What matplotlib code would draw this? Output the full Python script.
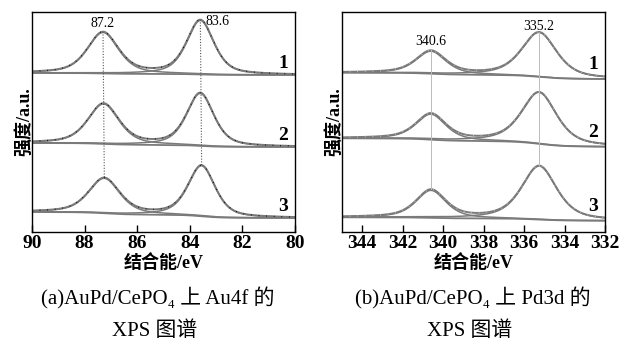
import numpy as np
import matplotlib
matplotlib.use("Agg")
import matplotlib.pyplot as plt

# ---------------- data ----------------
# Au4f panel (a): three spectra (1 top, 2 middle, 3 bottom)
au_labels = ["1", "2", "3"]
au_centers = [[87.30, 83.60], [87.28, 83.60], [87.25, 83.55]]
au_heights = [[41.0, 54.0], [40.0, 52.5], [35.0, 50.5]]
au_fwhm = [1.40, 1.22]
au_base_left = [159.0, 89.0, 20.0]
au_base_right = [157.0, 85.0, 14.0]
au_peak_text = ["87.2", "83.6"]

# Pd3d panel (b)
pd_labels = ["1", "2", "3"]
pd_centers = [[340.6, 335.25], [340.6, 335.25], [340.6, 335.25]]
pd_heights = [[22.5, 44.5], [25.5, 51.5], [27.5, 53.5]]
pd_fwhm = [1.75, 2.05]
pd_base_left = [159.3, 93.7, 14.7]
pd_base_right = [153.0, 85.3, 11.3]
pd_peak_text = ["340.6", "335.2"]

au_xticks = [90, 88, 86, 84, 82, 80]
pd_xticks = [344, 342, 340, 338, 336, 334, 332]

captions_a = ["(a)AuPd/CePO₄ 上 Au4f 的", "XPS 图谱"]
captions_b = ["(b)AuPd/CePO₄ 上 Pd3d 的", "XPS 图谱"]

# ---------------- style ----------------
LINE = "#7a7a7a"
SERIF = ["Liberation Serif", "Noto Sans CJK SC"]
CJK = ["Liberation Serif", "Noto Sans CJK SC"]


def pvoigt(x, c, h, w, eta):
    g = np.exp(-4 * np.log(2) * (x - c) ** 2 / w ** 2)
    l = 1.0 / (1 + 4 * (x - c) ** 2 / w ** 2)
    return h * (eta * l + (1 - eta) * g)


def shirley(x, peaks_total, left, right):
    order = np.argsort(x)  # ascending energy
    cum = np.cumsum(peaks_total[order])
    frac = np.empty_like(cum)
    frac[order] = cum / cum[-1]
    return right + (left - right) * frac


fig = plt.figure(figsize=(6.21, 3.43), dpi=100)
axA = fig.add_axes([32 / 621, 1 - 232 / 343, 263 / 621, 220 / 343])
axB = fig.add_axes([342 / 621, 1 - 232 / 343, 263 / 621, 220 / 343])


def draw_panel(ax, xmin, xmax, centers, heights, fwhm, bl, br, dot_color, eta):
    x = np.linspace(xmin, xmax, 600)
    tops = []
    for i in range(len(centers)):
        comps = [pvoigt(x, c, h, w, eta) for c, h, w in zip(centers[i], heights[i], fwhm)]
        total = comps[0] + comps[1]
        base = shirley(x, total, bl[i], br[i])
        ax.plot(x, base, color=LINE, lw=1.3)
        for cp in comps:
            ax.plot(x, base + cp, color=LINE, lw=1.1)
        ax.plot(x, base + total, color=LINE, lw=1.4)
        ax.plot(x, base + total, color=dot_color, lw=0.9,
                linestyle=(0, (0.6, 5.5)))
        tops.append([np.interp(c, x[::-1], (base + total)[::-1]) for c in centers[i]])
    return tops


def style_axis(ax, xlim, ticks):
    ax.set_xlim(*xlim)
    ax.set_ylim(0, 220)
    ax.set_yticks([])
    ax.set_xticks(ticks)
    ax.set_xticklabels([str(t) for t in ticks], fontfamily=SERIF,
                       fontweight="bold", fontsize=14)
    ax.tick_params(axis="x", direction="in", length=5, width=1, pad=2,
                   top=False)
    for s in ax.spines.values():
        s.set_linewidth(1.0)
        s.set_color("black")
    ax.set_xlabel("结合能/eV", fontfamily=CJK, fontweight="bold",
                  fontsize=13, labelpad=2)
    ax.set_ylabel("强度/a.u.", fontfamily=CJK, fontweight="bold",
                  fontsize=13, labelpad=-1)


# ----- panel (a) -----
topsA = draw_panel(axA, 90, 80, au_centers, au_heights, au_fwhm,
                   au_base_left, au_base_right, "black", 0.55)
style_axis(axA, (90, 80), au_xticks)
for k in range(2):
    xs = [au_centers[0][k], au_centers[2][k]]
    axA.plot(xs, [topsA[0][k], topsA[2][k]], color="#555555", lw=0.8,
             linestyle=(0, (1, 1.5)))
axA.text(au_centers[0][0], topsA[0][0] + 8, au_peak_text[0], ha="center",
         va="center", fontsize=10, fontfamily=SERIF)
axA.text(au_centers[0][1] - 0.2, topsA[0][1] - 2, au_peak_text[1], ha="left",
         va="center", fontsize=10, fontfamily=SERIF)
for i, lab in enumerate(au_labels):
    axA.text(80.45, au_base_right[i] + 3, lab, ha="center", va="bottom",
             fontsize=14, fontweight="bold", fontfamily=SERIF)

# ----- panel (b) -----
topsB = draw_panel(axB, 345, 332, pd_centers, pd_heights, pd_fwhm,
                   pd_base_left, pd_base_right, "#c8c8c8", 0.6)
style_axis(axB, (345, 332), pd_xticks)
for k in range(2):
    xs = [pd_centers[0][k], pd_centers[2][k]]
    axB.plot(xs, [topsB[0][k], topsB[2][k]], color="#bbbbbb", lw=0.7)
axB.text(pd_centers[0][0], topsB[0][0] + 9, pd_peak_text[0], ha="center",
         va="center", fontsize=10, fontfamily=SERIF)
axB.text(pd_centers[0][1], topsB[0][1] + 6, pd_peak_text[1], ha="center",
         va="center", fontsize=10, fontfamily=SERIF)
for i, lab in enumerate(pd_labels):
    axB.text(332.6, pd_base_right[i] + 6, lab, ha="center", va="bottom",
             fontsize=14, fontweight="bold", fontfamily=SERIF)

# ----- captions -----
fig.text(158 / 621, 1 - 298 / 343, captions_a[0], ha="center",
         va="center", fontsize=15, fontfamily=CJK)
fig.text(155 / 621, 1 - 331 / 343, captions_a[1], ha="center", va="center",
         fontsize=15, fontfamily=CJK)
fig.text(473 / 621, 1 - 298 / 343, captions_b[0], ha="center",
         va="center", fontsize=15, fontfamily=CJK)
fig.text(470 / 621, 1 - 331 / 343, captions_b[1], ha="center", va="center",
         fontsize=15, fontfamily=CJK)

fig.savefig("out.png", dpi=100)
